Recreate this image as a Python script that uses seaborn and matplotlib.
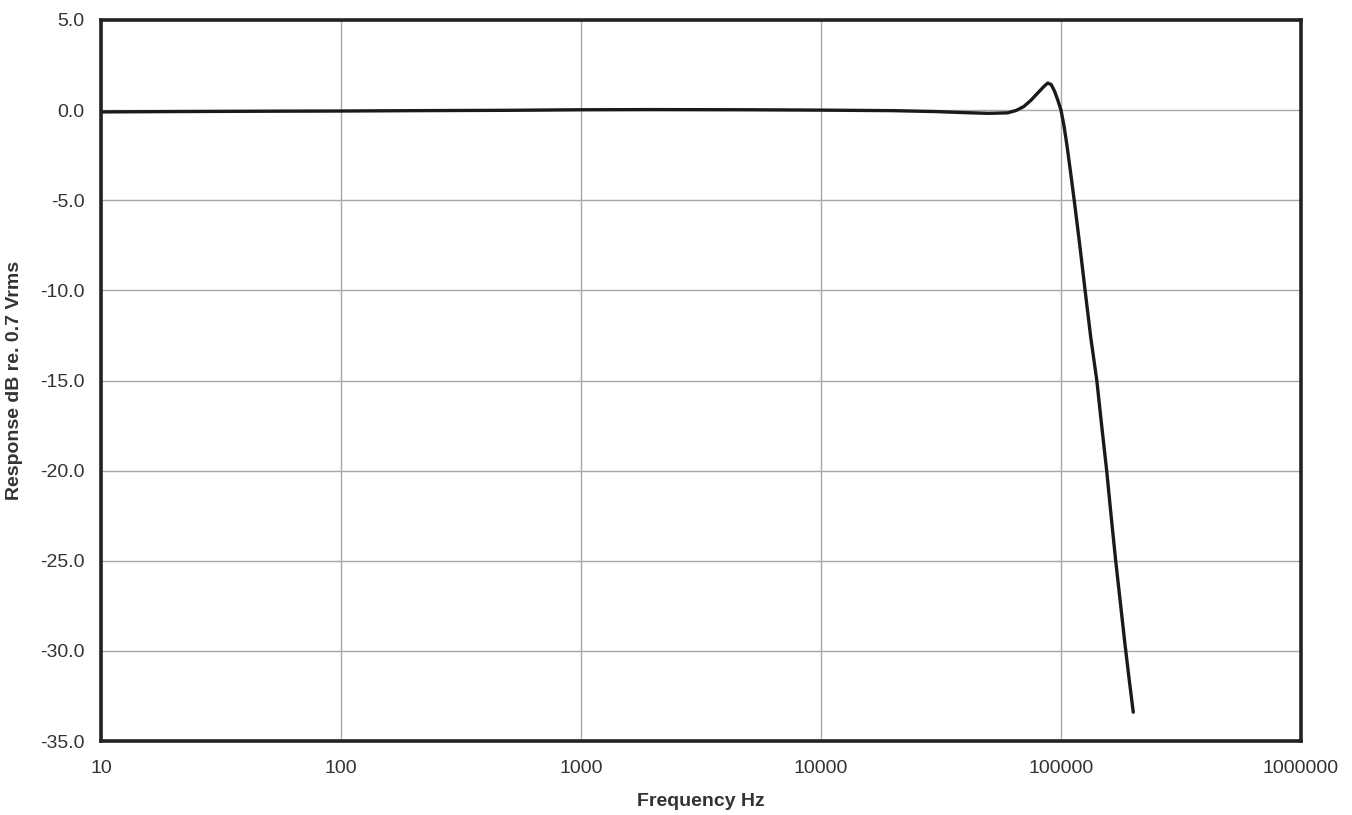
import matplotlib
matplotlib.use("Agg")
import matplotlib.pyplot as plt
import seaborn as sns
import pandas as pd

freq_hz = [10, 20, 50, 100, 200, 500, 1000, 2000, 5000, 10000, 20000, 30000,
           40000, 50000, 60000, 65000, 70000, 75000, 80000, 85000, 88000, 91000,
           94000, 97000, 100000, 103000, 106000, 110000, 114000, 120000, 126000,
           133000, 141000, 148000, 155000, 162000, 169000, 177000, 185000,
           192000, 200000]
response_db = [-0.10, -0.08, -0.06, -0.05, -0.03, -0.01, 0.02, 0.03, 0.02, 0.0,
               -0.03, -0.08, -0.14, -0.18, -0.15, -0.02, 0.20, 0.55, 0.95, 1.32,
               1.50, 1.42, 1.05, 0.55, 0.0, -0.9, -2.0, -3.6, -5.2, -7.6, -10.0,
               -12.6, -15.0, -17.6, -20.0, -22.6, -25.0, -27.4, -29.7, -31.5,
               -33.4]

x_ticks = [10, 100, 1000, 10000, 100000, 1000000]
x_tick_labels = ["10", "100", "1000", "10000", "100000", "1000000"]
y_ticks = [5, 0, -5, -10, -15, -20, -25, -30, -35]
y_tick_labels = ["5.0", "0.0", "-5.0", "-10.0", "-15.0", "-20.0", "-25.0", "-30.0", "-35.0"]

df = pd.DataFrame({"Frequency Hz": freq_hz, "Response": response_db})

sns.set_style("white")
plt.rcParams["font.family"] = ["Liberation Sans", "DejaVu Sans"]

fig = plt.figure(figsize=(13.52, 8.15), dpi=100)
ax = fig.add_axes([101 / 1352, 1 - 741 / 815, 1200 / 1352, 721 / 815])

sns.lineplot(data=df, x="Frequency Hz", y="Response", ax=ax, color="#1a1a1a",
             linewidth=2.4, sort=False)

ax.set_xscale("log")
ax.set_xlim(10, 1000000)
ax.set_ylim(-35, 5)
ax.set_xticks(x_ticks)
ax.set_xticklabels(x_tick_labels)
ax.xaxis.set_minor_locator(matplotlib.ticker.NullLocator())
ax.set_yticks(y_ticks)
ax.set_yticklabels(y_tick_labels)

ax.grid(True, which="major", color="#a8a8a8", linewidth=1.0)
ax.set_axisbelow(True)
for s in ax.spines.values():
    s.set_color("#222222")
    s.set_linewidth(2.6)

ax.tick_params(axis="both", which="major", length=4, width=1, color="#a8a8a8",
               labelsize=14, labelcolor="#333333", pad=8)
ax.tick_params(axis="x", pad=10)

ax.set_xlabel("Frequency Hz", fontsize=14, fontweight="bold", color="#333333", labelpad=11)
ax.set_ylabel("Response dB re. 0.7 Vrms", fontsize=14, fontweight="bold", color="#333333", labelpad=12)

fig.savefig("out.png", dpi=100, facecolor="white")
